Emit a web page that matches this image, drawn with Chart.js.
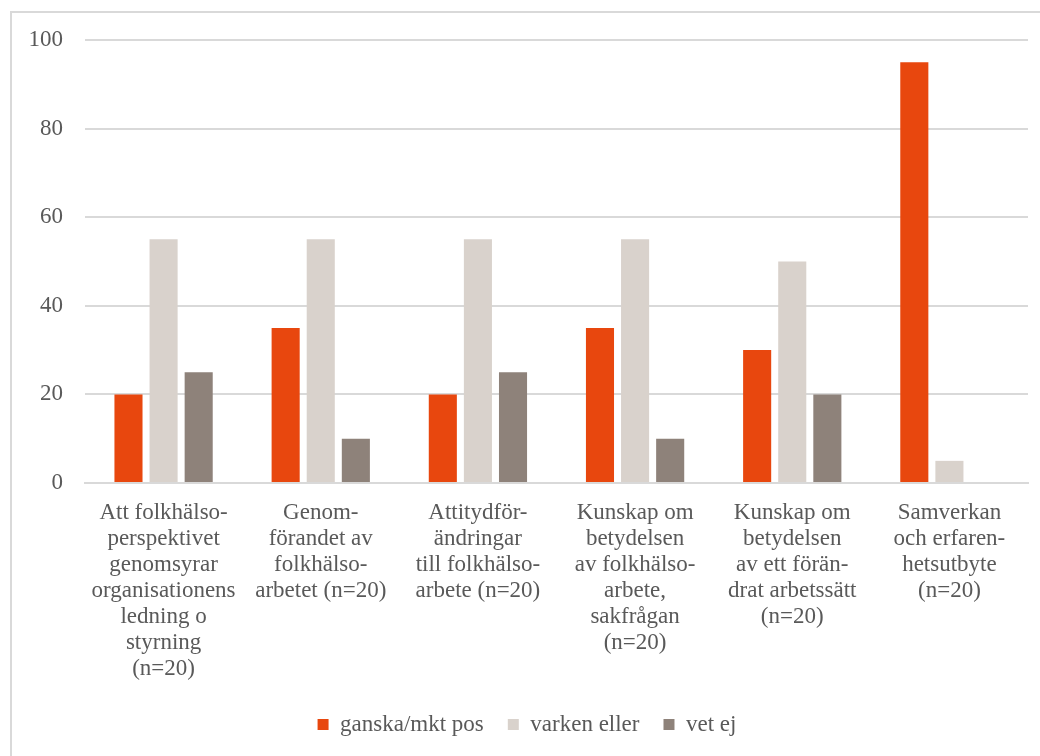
<!DOCTYPE html>
<html>
<head>
<meta charset="utf-8">
<script src="https://cdn.jsdelivr.net/npm/chart.js@4"></script>
<style>
    body { margin: 0; background: #fff; }
    #box {
        position: absolute;
        left: 10px; top: 11px;
        width: 1028px; height: 743px;
        border-left: 2px solid #d9d9d9;
        border-top: 2px solid #d9d9d9;
    }
</style>
</head>
<body>
<div id="box"><canvas id="chart"></canvas></div>
<script>
// kategorier (flerradiga etiketter)
const categories = [
    ['Att folkhälso-', 'perspektivet', 'genomsyrar', 'organisationens', 'ledning o', 'styrning', '(n=20)'],
    ['Genom-', 'förandet av', 'folkhälso-', 'arbetet (n=20)'],
    ['Attitydför-', 'ändringar', 'till folkhälso-', 'arbete (n=20)'],
    ['Kunskap om', 'betydelsen', 'av folkhälso-', 'arbete,', 'sakfrågan', '(n=20)'],
    ['Kunskap om', 'betydelsen', 'av ett förän-', 'drat arbetssätt', '(n=20)'],
    ['Samverkan', 'och erfaren-', 'hetsutbyte', '(n=20)']
];

const positiv = [20, 35, 20, 35, 30, 95];
const varkenEller = [55, 55, 55, 55, 50, 5];
const vetEj = [25, 10, 25, 10, 20, 0];

const yTicks = [0, 20, 40, 60, 80, 100];

const textColor = '#595959';
const serif = "'Liberation Serif', 'Times New Roman', serif";

new Chart(document.getElementById('chart'), {
    type: 'bar',
    data: {
        labels: categories,
        datasets: [
            { label: 'ganska/mkt pos', data: positiv, backgroundColor: '#E8470E' },
            { label: 'varken eller', data: varkenEller, backgroundColor: '#D9D2CC' },
            { label: 'vet ej', data: vetEj, backgroundColor: '#8E827A' }
        ]
    },
    options: {
        responsive: true,
        maintainAspectRatio: false,
        animation: false,
        datasets: {
            bar: { categoryPercentage: 0.67, barPercentage: 0.8 }
        },
        layout: { padding: { top: 27, right: 12, left: 14, bottom: 10 } },
        plugins: {
            tooltip: { enabled: false },
            legend: {
                position: 'bottom',
                labels: {
                    color: textColor,
                    font: { family: serif, size: 23 },
                    boxWidth: 11,
                    boxHeight: 11,
                    padding: 24
                }
            }
        },
        scales: {
            x: {
                grid: { display: false },
                border: { display: true, color: '#d9d9d9', width: 2 },
                ticks: {
                    color: textColor,
                    font: { family: serif, size: 23, lineHeight: 1.13 },
                    maxRotation: 0,
                    autoSkip: false,
                    padding: 9
                },
                afterFit: function(axis){ axis.height = 206; }
            },
            y: {
                min: 0,
                max: 100,
                afterBuildTicks: function(axis){
                    axis.ticks = yTicks.map(v => ({ value: v }));
                },
                // osynliga tickstreck ger avståndet mellan siffror och linjer
                grid: { color: '#d9d9d9', lineWidth: 2, drawTicks: true, tickLength: 22, tickColor: 'rgba(0,0,0,0)' },
                border: { display: false },
                ticks: {
                    color: textColor,
                    font: { family: serif, size: 23 },
                    padding: 0
                },
                afterFit: function(axis){ axis.width = 59; }
            }
        }
    }
});
</script>
</body>
</html>
